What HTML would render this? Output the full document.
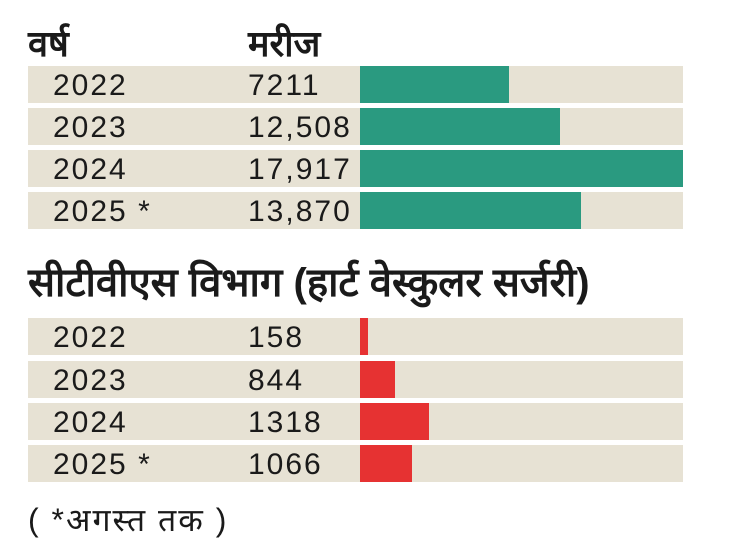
<!DOCTYPE html>
<html><head><meta charset="utf-8"><style>
body{margin:0;width:730px;height:548px;background:#fff;position:relative;overflow:hidden;font-family:"Liberation Sans","Noto Sans CJK SC",sans-serif;color:#1a1a1a}
.a{position:absolute}
.r{position:absolute;left:28px;width:655px;height:37px;background:#e7e2d4}
.t{position:absolute;font-size:30px;line-height:39px;letter-spacing:2px}
.b{position:absolute;height:37px}
</style></head><body>
<div class="a" style="left:28px;top:22px;font-size:36px;font-weight:bold;line-height:44px">वर्ष</div>
<div class="a" style="left:248px;top:22px;font-size:36px;font-weight:bold;line-height:44px">मरीज</div>

<div class="r" style="top:66px"></div><div class="t" style="left:53px;top:66px">2022</div><div class="t" style="left:248px;top:66px">7211</div><div class="b" style="left:360px;top:66px;width:149px;background:#2a9a80"></div>
<div class="r" style="top:108px"></div><div class="t" style="left:53px;top:108px">2023</div><div class="t" style="left:248px;top:108px">12,508</div><div class="b" style="left:360px;top:108px;width:200px;background:#2a9a80"></div>
<div class="r" style="top:150px"></div><div class="t" style="left:53px;top:150px">2024</div><div class="t" style="left:248px;top:150px">17,917</div><div class="b" style="left:360px;top:150px;width:323px;background:#2a9a80"></div>
<div class="r" style="top:192px"></div><div class="t" style="left:53px;top:192px">2025 *</div><div class="t" style="left:248px;top:192px">13,870</div><div class="b" style="left:360px;top:192px;width:221px;background:#2a9a80"></div>

<div class="a" style="left:28px;top:259px;font-size:40px;font-weight:bold;line-height:48px">सीटीवीएस विभाग (हार्ट वेस्कुलर सर्जरी)</div>

<div class="r" style="top:318px"></div><div class="t" style="left:53px;top:318px">2022</div><div class="t" style="left:248px;top:318px">158</div><div class="b" style="left:360px;top:318px;width:8px;background:#e63232"></div>
<div class="r" style="top:361px"></div><div class="t" style="left:53px;top:361px">2023</div><div class="t" style="left:248px;top:361px">844</div><div class="b" style="left:360px;top:361px;width:35px;background:#e63232"></div>
<div class="r" style="top:403px"></div><div class="t" style="left:53px;top:403px">2024</div><div class="t" style="left:248px;top:403px">1318</div><div class="b" style="left:360px;top:403px;width:69px;background:#e63232"></div>
<div class="r" style="top:445px"></div><div class="t" style="left:53px;top:445px">2025 *</div><div class="t" style="left:248px;top:445px">1066</div><div class="b" style="left:360px;top:445px;width:52px;background:#e63232"></div>

<div class="a" style="left:28px;top:500px;font-size:32px;line-height:40px;letter-spacing:2px">( *अगस्त तक )</div>
</body></html>
